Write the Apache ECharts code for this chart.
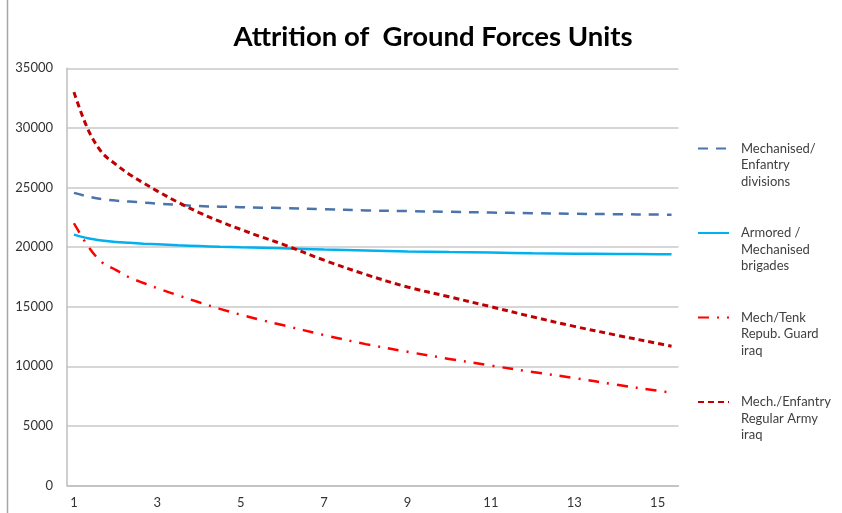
<!DOCTYPE html>
<html>
<head>
<meta charset="utf-8">
<script src="https://cdn.jsdelivr.net/npm/echarts@6/dist/echarts.min.js"></script>
<style>
html,body{margin:0;padding:0;background:#fff;}
#c{width:842px;height:513px;}
</style>
</head>
<body>
<div id="c"></div>
<script>
// ---- data ----
const xValues = [1, 1.333, 1.667, 2, 2.333, 2.667, 3, 3.5, 4, 4.5, 5, 5.5, 6, 7, 8, 9, 10, 11, 12, 13, 14, 15, 15.333];
const mechDivisions = [24550, 24250, 24030, 23900, 23820, 23740, 23650, 23540, 23440, 23390, 23350, 23310, 23280, 23180, 23080, 23020, 22960, 22900, 22850, 22800, 22760, 22730, 22720];
const armoredBrigades = [21050, 20750, 20560, 20430, 20360, 20290, 20230, 20150, 20090, 20030, 19980, 19940, 19900, 19800, 19720, 19640, 19580, 19540, 19480, 19450, 19430, 19400, 19390];
const repubGuard = [22000, 20100, 18740, 18090, 17450, 16990, 16550, 15950, 15370, 14820, 14330, 13880, 13460, 12620, 11860, 11220, 10620, 10060, 9530, 9020, 8460, 7950, 7800];
const regularArmy = [33000, 29900, 27950, 26950, 26100, 25380, 24700, 23750, 22900, 22150, 21480, 20850, 20250, 18900, 17700, 16650, 15830, 15000, 14150, 13350, 12620, 11920, 11680];
const xTickLabels = [1, 3, 5, 7, 9, 11, 13, 15];
const yTicks = [0, 5000, 10000, 15000, 20000, 25000, 30000, 35000];
const seriesNames = [
  'Mechanised/\nEnfantry\ndivisions',
  'Armored /\nMechanised\nbrigades',
  'Mech/Tenk\nRepub. Guard\niraq',
  'Mech./Enfantry\nRegular Army\niraq'
];
const titleText = 'Attrition of  Ground Forces Units';

function pairs(ys){ return xValues.map((x,i)=>[x, ys[i]]); }

const FONT = 'Lato, "Open Sans", sans-serif';
const chart = echarts.init(document.getElementById('c'), null, {renderer:'canvas'});
function lineSeries(i, ys, color, width, dash){
  return {name:seriesNames[i], type:'line', data:pairs(ys), smooth:0.35,
    symbol:'none', showSymbol:false,
    itemStyle:{color:color}, lineStyle:{color:color, width:width, type:dash}};
}
chart.setOption({
  animation:false,
  backgroundColor:'#fff',
  title:{
    text:titleText, left:428, top:18, textAlign:'center',
    textStyle:{fontFamily:FONT, fontWeight:'bold', fontSize:27.5, color:'#000'}
  },
  grid:{left:67, top:68.3, right:163.5, bottom:27.5},
  legend:{
    orient:'vertical', left:697, top:107, padding:0, itemGap:1.5,
    itemWidth:31, itemHeight:14,
    data:seriesNames,
    itemStyle:{opacity:0},
    formatter:function(n){ return '\n\n' + n; },
    textStyle:{fontFamily:FONT, fontSize:13, color:'#404040', lineHeight:16.6, padding:[0,0,0,7]}
  },
  graphic:[{type:'line', shape:{x1:7.5, y1:0, x2:7.5, y2:513}, style:{stroke:'#A6A6A6', lineWidth:1.5}, silent:true}],
  xAxis:{
    type:'value', min:5/6, max:15.5,
    axisLine:{show:true, lineStyle:{color:'#BEBEBE', width:1.5}},
    axisTick:{show:false},
    splitLine:{show:false},
    axisLabel:{customValues:xTickLabels, color:'#333', fontFamily:FONT, fontSize:13, margin:11,
      showMinLabel:true, showMaxLabel:true}
  },
  yAxis:{
    type:'value', min:0, max:35000, interval:5000,
    axisLine:{show:true, lineStyle:{color:'#BEBEBE', width:1.5}},
    axisTick:{show:false},
    splitLine:{show:true, lineStyle:{color:'#C8C8C8', width:1.5}},
    axisLabel:{color:'#333', fontFamily:FONT, fontSize:13, margin:14,
      formatter:function(v){ return yTicks.indexOf(v) >= 0 ? String(v) : ''; }}
  },
  series:[
    lineSeries(0, mechDivisions, '#4A74AA', 2.5, [10,8]),
    lineSeries(1, armoredBrigades, '#00B0F0', 2.5, 'solid'),
    lineSeries(2, repubGuard, '#FF0000', 2.5, [11,8,2,8]),
    lineSeries(3, regularArmy, '#C00000', 3, [6,4])
  ]
});
</script>
</body>
</html>
